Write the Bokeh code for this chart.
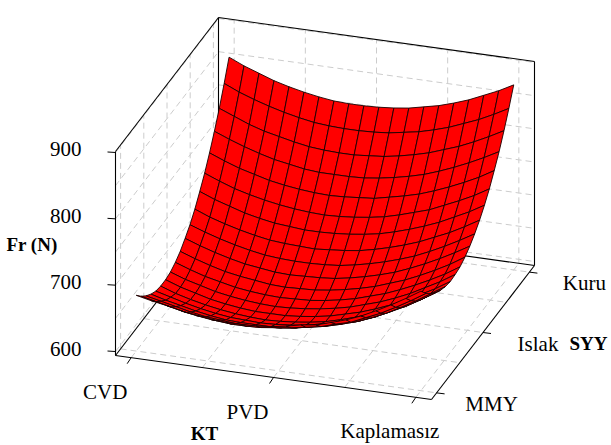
from bokeh.plotting import figure
from bokeh.models import Range1d
from bokeh.core.properties import value
from bokeh.embed import file_html
from bokeh.resources import INLINE

kt_ticks = [-1, 0, 1]
kt_labels = ["CVD", "PVD", "Kaplamasız"]
syy_ticks = [-1, 0, 1]
syy_labels = ["MMY", "Islak", "Kuru"]
z_ticks = [600, 700, 800, 900]
kt_grid = [-1, -0.5, 0, 0.5, 1]
syy_grid = [-1, -0.5, 0, 0.5, 1]
z_grid = [600, 650, 700, 750, 800, 850, 900]
kt_title, syy_title, z_title = "KT", "SYY", "Fr (N)"

# Fr (N); one row per SYY level, from MMY to Kuru, 20 KT levels per row
fr_00 = [678,673,669,664,660,657,656,656,657,659,663,668,671,678,685,694,705,717,730,744]
fr_01 = [667,662,657,652,649,646,644,644,645,648,651,655,659,666,672,682,692,704,717,731]
fr_02 = [658,653,648,643,639,637,635,635,636,638,641,646,650,656,663,672,682,694,707,721]
fr_03 = [651,645,640,635,631,628,627,627,627,630,633,637,642,649,655,664,675,686,699,713]
fr_04 = [646,640,634,629,625,622,621,620,621,623,626,631,635,642,649,658,669,680,693,707]
fr_05 = [644,636,630,625,621,618,616,615,616,618,621,625,631,638,646,655,665,676,689,703]
fr_06 = [644,636,630,624,620,617,615,615,615,617,620,624,630,636,644,653,663,675,687,701]
fr_07 = [646,638,632,626,622,619,617,616,617,619,622,626,631,638,645,654,664,676,688,702]
fr_08 = [651,643,636,631,626,623,621,620,621,622,625,629,634,641,648,657,667,678,690,704]
fr_09 = [658,650,643,637,633,630,627,626,627,628,631,635,640,646,654,662,672,683,695,709]
fr_10 = [668,660,653,647,642,639,636,635,636,637,639,643,648,654,661,670,680,691,703,716]
fr_11 = [679,671,664,658,653,649,647,646,646,647,649,653,658,664,671,679,689,700,712,725]
fr_12 = [693,684,677,671,666,662,660,659,658,660,662,665,670,676,683,691,701,711,723,736]
fr_13 = [710,701,694,687,682,678,676,674,674,675,677,680,684,690,697,705,714,725,736,749]
fr_14 = [728,719,711,705,700,696,693,691,690,691,693,696,700,706,713,720,730,740,751,764]
fr_15 = [749,740,732,726,720,716,713,711,710,711,713,715,720,725,731,739,748,758,769,782]
fr_16 = [772,763,755,748,742,738,734,732,732,732,733,736,740,745,751,759,768,778,789,801]
fr_17 = [797,788,779,772,767,762,758,756,755,755,757,759,763,768,774,782,790,800,811,823]
fr_18 = [825,815,807,800,794,789,785,783,782,782,783,785,789,793,799,806,815,824,835,847]
fr_19 = [855,845,837,829,823,818,814,811,810,810,811,813,816,821,826,833,841,851,861,873]
fr_rows = [fr_00, fr_01, fr_02, fr_03, fr_04, fr_05, fr_06, fr_07, fr_08, fr_09,
           fr_10, fr_11, fr_12, fr_13, fr_14, fr_15, fr_16, fr_17, fr_18, fr_19]

AX, AY = 115.0, 355.0
UX, UY = 316.0, 44.0
VX, VY = 103.0, -134.0
ZH = 204.0
LIM = 1.11
ZMIN, ZMAX = 594.0, 901.5

def nu(a):
    return (a + LIM) / (2 * LIM)

def nz(z):
    return (z - ZMIN) / (ZMAX - ZMIN)

def proj(u, v, z):
    a, b, c = nu(u), nu(v), nz(z)
    return AX + a * UX + b * VX, AY + a * UY + b * VY - c * ZH

def seg(p0, p1):
    a, b = proj(*p0), proj(*p1)
    return [a[0], b[0]], [a[1], b[1]]

p = figure(width=611, height=445, output_backend="svg", toolbar_location=None,
           x_range=Range1d(0, 611), y_range=Range1d(445, 0), min_border=0)
p.axis.visible = False
p.grid.visible = False
p.outline_line_color = None
p.background_fill_color = "white"


def lines(segments, color, width, dash="solid"):
    xs, ys = zip(*[seg(a, b) for a, b in segments])
    p.multi_line(list(xs), list(ys), line_color=color, line_width=width, line_dash=dash)

grid = []
for u in kt_grid:
    grid.append(((u, -LIM, ZMIN), (u, LIM, ZMIN)))
    grid.append(((u, LIM, ZMIN), (u, LIM, ZMAX)))
for v in syy_grid:
    grid.append(((-LIM, v, ZMIN), (LIM, v, ZMIN)))
    grid.append(((-LIM, v, ZMIN), (-LIM, v, ZMAX)))
for z in z_grid:
    grid.append(((-LIM, -LIM, z), (-LIM, LIM, z)))
    grid.append(((-LIM, LIM, z), (LIM, LIM, z)))
lines(grid, "#cccccc", 1, "6 4")

box = [((-LIM, -LIM, ZMIN), (-LIM, -LIM, ZMAX)),
       ((-LIM, -LIM, ZMAX), (-LIM, LIM, ZMAX)),
       ((-LIM, LIM, ZMAX), (LIM, LIM, ZMAX)),
       ((LIM, LIM, ZMAX), (LIM, LIM, ZMIN)),
       ((-LIM, LIM, ZMAX), (-LIM, LIM, ZMIN)),
       ((-LIM, -LIM, ZMIN), (LIM, -LIM, ZMIN)),
       ((LIM, -LIM, ZMIN), (LIM, LIM, ZMIN)),
       ((-LIM, -LIM, ZMIN), (-LIM, LIM, ZMIN)),
       ((-LIM, LIM, ZMIN), (LIM, LIM, ZMIN))]
lines(box, "black", 1.1)

n_v, n_u = len(fr_rows), len(fr_rows[0])
cells = []
for j in range(n_v - 1):
    for i in range(n_u - 1):
        idx = [(i, j), (i + 1, j), (i + 1, j + 1), (i, j + 1)]
        pts, depth = [], 0.0
        for a, b in idx:
            u = -1 + 2 * a / (n_u - 1)
            v = -1 + 2 * b / (n_v - 1)
            z = fr_rows[b][a]
            pts.append(proj(u, v, z))
            floor = nu(u) * UY + nu(v) * VY
            depth += floor * 2.0 + nz(z) * ZH * 0.58
        cells.append((depth, [q[0] for q in pts], [q[1] for q in pts]))
cells.sort(key=lambda c: c[0])
p.patches([c[1] for c in cells], [c[2] for c in cells], fill_color="#ff0000",
          line_color="#1a0000", line_width=0.9)

tx, ty = [], []
for z in z_ticks:
    x, y = proj(-LIM, -LIM, z)
    tx.append([x - 8, x]); ty.append([y - 0.5, y])
for u in kt_ticks:
    x, y = proj(u, -LIM, ZMIN)
    tx.append([x - 4, x]); ty.append([y + 6, y])
for v in syy_ticks:
    x, y = proj(LIM, v, ZMIN)
    tx.append([x, x + 8]); ty.append([y, y + 1])
p.multi_line(tx, ty, line_color="black", line_width=1)


def label(x, y, s, align="center", bold=False, size="21px"):
    p.text([x], [y], text=[s], text_font=value("Liberation Serif"), text_font_size=size,
           text_font_style="bold" if bold else "normal", text_align=align,
           text_baseline="middle", text_color="black")

for z in z_ticks:
    x, y = proj(-LIM, -LIM, z)
    label(81, y - 3, str(z), "right")
for u, s in zip(kt_ticks, kt_labels):
    x, y = proj(u, -LIM, ZMIN)
    label(x - 26, y + 34, s)
for v, s in zip(syy_ticks, syy_labels):
    x, y = proj(LIM, v, ZMIN)
    label(x + 55, y + 11, s)
label(204, 433, kt_title, bold=True, size="19px")
label(588, 343, syy_title, bold=True, size="19px")
label(31.5, 244, z_title, bold=True, size="19px")

open("out.html", "w").write(file_html(p, INLINE))
